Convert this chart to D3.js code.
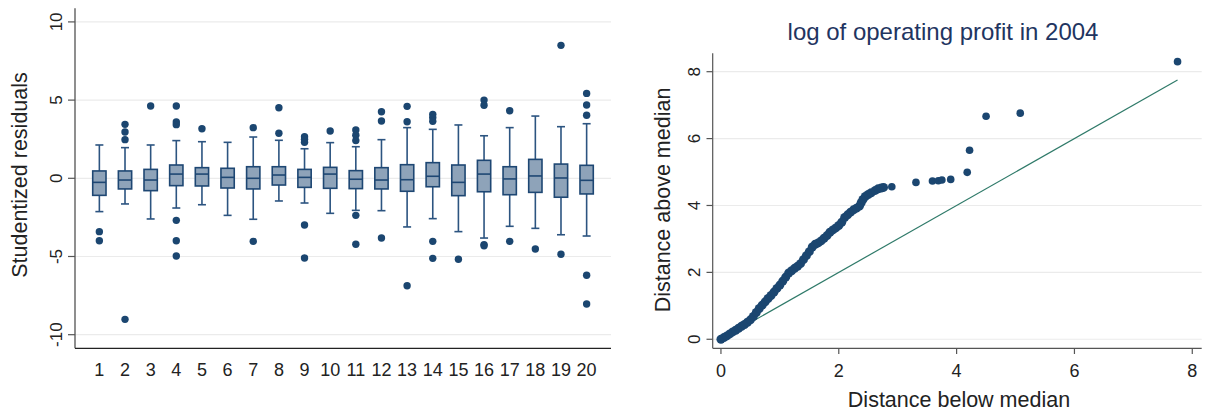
<!DOCTYPE html>
<html>
<head>
<meta charset="utf-8">
<script src="https://cdn.jsdelivr.net/npm/d3@7"></script>
<style>
  body { margin: 0; background: #fff; }
  svg { display: block; font-family: "Liberation Sans", Arial, Helvetica, sans-serif; }
</style>
</head>
<body>
<svg id="chart" width="1205" height="414"></svg>
<script>
// ---- left panel: studentized residuals by group ----
const groups = [1, 2, 3, 4, 5, 6, 7, 8, 9, 10, 11, 12, 13, 14, 15, 16, 17, 18, 19, 20];
const whiskerLo = [-2.13, -1.64, -2.60, -1.90, -1.69, -2.37, -2.62, -1.45, -1.58, -2.24, -2.05, -2.07, -3.11, -2.58, -3.41, -3.82, -3.07, -3.20, -3.61, -3.69];
const q1 = [-1.09, -0.68, -0.79, -0.47, -0.49, -0.62, -0.68, -0.43, -0.58, -0.64, -0.66, -0.68, -0.83, -0.54, -1.11, -0.86, -1.05, -0.90, -1.21, -1.00];
const median = [-0.26, -0.11, -0.11, 0.27, 0.27, 0.06, 0.00, 0.21, 0.06, 0.27, -0.06, -0.11, -0.09, 0.13, -0.26, 0.27, -0.04, 0.15, 0.02, -0.13];
const q3 = [0.47, 0.47, 0.57, 0.85, 0.68, 0.64, 0.74, 0.74, 0.57, 0.70, 0.49, 0.68, 0.87, 1.00, 0.85, 1.15, 0.74, 1.21, 0.91, 0.83];
const whiskerHi = [2.13, 1.96, 2.13, 2.41, 2.34, 2.30, 2.64, 2.43, 1.89, 2.28, 2.02, 2.47, 3.24, 3.13, 3.41, 2.72, 3.24, 3.98, 3.30, 3.49];
const outliers = [
  [-3.41, -3.99],
  [3.45, 2.96, 2.47, -9.02],
  [4.62],
  [4.62, 3.60, 3.43, -2.69, -3.99, -4.97],
  [3.17],
  [],
  [3.24, -4.03],
  [4.51, 2.88],
  [2.66, 2.49, 2.30, -2.99, -5.10],
  [3.02],
  [3.09, 2.75, 2.41, -2.37, -4.22],
  [4.26, 3.66, -3.82],
  [4.60, 3.62, -6.87],
  [4.09, 3.88, 3.64, -4.03, -5.12],
  [-5.18],
  [5.00, 4.67, -4.24, -4.32],
  [4.32, -4.03],
  [-4.52],
  [8.50, -4.86],
  [5.43, 4.69, 4.03, -6.20, -8.04]
];
const leftYTicks = [-10, -5, 0, 5, 10];

// ---- right panel: symmetry plot ----
const symX = [0.00, 0.05, 0.10, 0.15, 0.20, 0.25, 0.30, 0.35, 0.40, 0.45, 0.50, 0.55, 0.60, 0.65, 0.70, 0.75,
  0.80, 0.85, 0.90, 0.95, 1.00, 1.05, 1.10, 1.15, 1.20, 1.25, 1.30, 1.35, 1.40, 1.45, 1.50, 1.55, 1.60, 1.65,
  1.70, 1.75, 1.80, 1.85, 1.90, 1.95, 2.00, 2.05, 2.10, 2.15, 2.20, 2.25, 2.30, 2.35, 2.38, 2.41, 2.45, 2.50,
  2.55, 2.62, 2.67, 2.72, 2.76, 2.90, 3.31, 3.59, 3.69, 3.75, 3.90, 4.18, 4.22, 4.50, 5.08, 7.75];
const symY = [0.00, 0.05, 0.10, 0.16, 0.22, 0.27, 0.33, 0.39, 0.44, 0.51, 0.58, 0.68, 0.80, 0.92, 1.02, 1.12,
  1.22, 1.31, 1.41, 1.52, 1.62, 1.74, 1.86, 1.98, 2.05, 2.12, 2.18, 2.26, 2.38, 2.50, 2.62, 2.76, 2.84, 2.88,
  2.94, 3.02, 3.10, 3.20, 3.27, 3.33, 3.40, 3.50, 3.64, 3.72, 3.80, 3.87, 3.92, 3.98, 4.08, 4.18, 4.27, 4.33,
  4.38, 4.45, 4.50, 4.52, 4.54, 4.56, 4.69, 4.73, 4.74, 4.76, 4.78, 4.99, 5.65, 6.67, 6.76, 8.30];
const refLine = [0, 7.75];
const rightTicks = [0, 2, 4, 6, 8];

const svg = d3.select("#chart");
const navy = "#1b4670";
const gridColor = "#ebebeb";

// ================= left panel =================
const xL = d3.scaleLinear().domain([0.05, 20.95]).range([75, 611]);
const yL = d3.scaleLinear().domain([-10.87, 10.87]).range([348.3, 8.3]);
const left = svg.append("g");

left.selectAll(".gridL").data(leftYTicks).enter().append("line")
  .attr("x1", xL.range()[0]).attr("x2", xL.range()[1])
  .attr("y1", d => yL(d)).attr("y2", d => yL(d))
  .attr("stroke", gridColor).attr("stroke-width", 1.2);

// axes
left.append("line").attr("x1", 75).attr("x2", 75).attr("y1", yL.range()[1]).attr("y2", yL.range()[0])
  .attr("stroke", "#444").attr("stroke-width", 1.2);
left.append("line").attr("x1", 75).attr("x2", 611).attr("y1", 348.3).attr("y2", 348.3)
  .attr("stroke", "#222").attr("stroke-width", 1.2);
left.selectAll(".tickL").data(leftYTicks).enter().append("line")
  .attr("x1", 68).attr("x2", 75).attr("y1", d => yL(d)).attr("y2", d => yL(d))
  .attr("stroke", "#555").attr("stroke-width", 1.2);
left.selectAll(".tlabL").data(leftYTicks).enter().append("text")
  .attr("transform", d => `translate(61.5,${yL(d)}) rotate(-90)`)
  .attr("text-anchor", "middle").style("font-size", "17px").attr("fill", "#222")
  .text(d => d);
left.selectAll(".xlabL").data(groups).enter().append("text")
  .attr("x", d => xL(d)).attr("y", 376)
  .attr("text-anchor", "middle").style("font-size", "18px").attr("fill", "#222")
  .text(d => d);
left.append("text")
  .attr("transform", "translate(27,175) rotate(-90)")
  .attr("text-anchor", "middle").style("font-size", "21.5px").attr("fill", "#222")
  .text("Studentized residuals");

// boxes
const boxW = 13.3, capW = 8;
const box = left.selectAll(".box").data(groups).enter().append("g");
box.append("line")
  .attr("x1", d => xL(d)).attr("x2", d => xL(d))
  .attr("y1", (d, i) => yL(whiskerHi[i])).attr("y2", (d, i) => yL(q3[i]))
  .attr("stroke", "#2c5480").attr("stroke-width", 1.6);
box.append("line")
  .attr("x1", d => xL(d)).attr("x2", d => xL(d))
  .attr("y1", (d, i) => yL(q1[i])).attr("y2", (d, i) => yL(whiskerLo[i]))
  .attr("stroke", "#2c5480").attr("stroke-width", 1.6);
box.append("line")
  .attr("x1", d => xL(d) - capW / 2).attr("x2", d => xL(d) + capW / 2)
  .attr("y1", (d, i) => yL(whiskerHi[i])).attr("y2", (d, i) => yL(whiskerHi[i]))
  .attr("stroke", "#2c5480").attr("stroke-width", 1.6);
box.append("line")
  .attr("x1", d => xL(d) - capW / 2).attr("x2", d => xL(d) + capW / 2)
  .attr("y1", (d, i) => yL(whiskerLo[i])).attr("y2", (d, i) => yL(whiskerLo[i]))
  .attr("stroke", "#2c5480").attr("stroke-width", 1.6);
box.append("rect")
  .attr("x", d => xL(d) - boxW / 2).attr("width", boxW)
  .attr("y", (d, i) => yL(q3[i])).attr("height", (d, i) => yL(q1[i]) - yL(q3[i]))
  .attr("fill", "#8ea3b9").attr("stroke", "#1e4773").attr("stroke-width", 1.6);
box.append("line")
  .attr("x1", d => xL(d) - boxW / 2).attr("x2", d => xL(d) + boxW / 2)
  .attr("y1", (d, i) => yL(median[i])).attr("y2", (d, i) => yL(median[i]))
  .attr("stroke", "#1e4773").attr("stroke-width", 1.6);

const outPts = [];
groups.forEach((g, i) => outliers[i].forEach(v => outPts.push({ g, v })));
left.selectAll(".out").data(outPts).enter().append("circle")
  .attr("cx", d => xL(d.g)).attr("cy", d => yL(d.v)).attr("r", 3.7)
  .attr("fill", navy);

// ================= right panel =================
const xR = d3.scaleLinear().domain([-0.14, 8.16]).range([712.7, 1201.7]);
const yR = d3.scaleLinear().domain([-0.27, 8.55]).range([348.3, 53.3]);
const right = svg.append("g");

right.selectAll(".gridR").data(rightTicks).enter().append("line")
  .attr("x1", xR.range()[0]).attr("x2", xR.range()[1])
  .attr("y1", d => yR(d)).attr("y2", d => yR(d))
  .attr("stroke", gridColor).attr("stroke-width", 1.2);

right.append("line").attr("x1", 712.7).attr("x2", 712.7).attr("y1", 53.3).attr("y2", 348.3)
  .attr("stroke", "#555").attr("stroke-width", 1.2);
right.append("line").attr("x1", 712.7).attr("x2", 1201.7).attr("y1", 348.3).attr("y2", 348.3)
  .attr("stroke", "#555").attr("stroke-width", 1.2);
right.selectAll(".ytickR").data(rightTicks).enter().append("line")
  .attr("x1", 706.5).attr("x2", 712.7).attr("y1", d => yR(d)).attr("y2", d => yR(d))
  .attr("stroke", "#555").attr("stroke-width", 1.2);
right.selectAll(".xtickR").data(rightTicks).enter().append("line")
  .attr("x1", d => xR(d)).attr("x2", d => xR(d)).attr("y1", 348.3).attr("y2", 354)
  .attr("stroke", "#555").attr("stroke-width", 1.2);
right.selectAll(".ylabR").data(rightTicks).enter().append("text")
  .attr("transform", d => `translate(700,${yR(d)}) rotate(-90)`)
  .attr("text-anchor", "middle").style("font-size", "17px").attr("fill", "#222")
  .text(d => d);
right.selectAll(".xlabR").data(rightTicks).enter().append("text")
  .attr("x", d => xR(d)).attr("y", 376.5)
  .attr("text-anchor", "middle").style("font-size", "18px").attr("fill", "#222")
  .text(d => d);
right.append("text")
  .attr("transform", "translate(670,200) rotate(-90)")
  .attr("text-anchor", "middle").style("font-size", "21.5px").attr("fill", "#222")
  .text("Distance above median");
right.append("text")
  .attr("x", 959).attr("y", 407)
  .attr("text-anchor", "middle").style("font-size", "21.5px").attr("fill", "#222")
  .text("Distance below median");
right.append("text")
  .attr("x", 943).attr("y", 40)
  .attr("text-anchor", "middle").style("font-size", "24px").attr("fill", "#1f3561")
  .text("log of operating profit in 2004");

right.append("line")
  .attr("x1", xR(refLine[0])).attr("y1", yR(refLine[0]))
  .attr("x2", xR(refLine[1])).attr("y2", yR(refLine[1]))
  .attr("stroke", "#2f7a69").attr("stroke-width", 1.2);

// the dense run of overlapping points reads thicker than the lone ones
right.selectAll(".sym").data(symX).enter().append("circle")
  .attr("cx", d => xR(d)).attr("cy", (d, i) => yR(symY[i]))
  .attr("r", d => d < 2.8 ? 4.5 : 3.8)
  .attr("fill", navy);
</script>
</body>
</html>
